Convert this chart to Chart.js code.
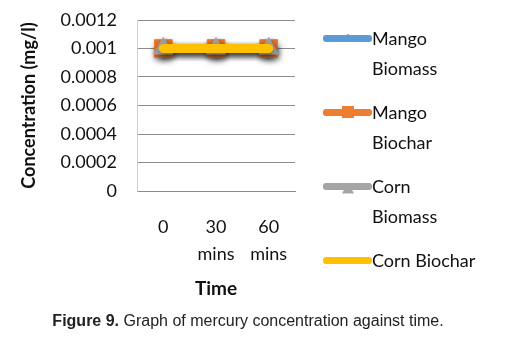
<!DOCTYPE html>
<html><head><meta charset="utf-8">
<script src="https://cdn.jsdelivr.net/npm/chart.js@4"></script>
<style>
html,body{margin:0;padding:0;background:#fff;width:516px;height:339px;overflow:hidden;font-family:Lato,sans-serif;}
#wrap{position:absolute;left:0;top:0;width:516px;height:300px;}
#legend{position:absolute;left:323px;top:23px;}
.item{display:flex;align-items:flex-start;height:74px;}
.sample{position:relative;width:49px;height:30px;flex:none;}
.sample .ln{position:absolute;left:0;right:0;top:12px;height:7px;border-radius:3px;}
.sample .mk{position:absolute;left:50%;top:15px;transform:translate(-50%,-50%);}
.txt{font-size:18px;line-height:30px;color:#111;max-width:105px;}
#caption{position:absolute;left:0;top:312px;width:496px;text-align:center;font-family:"Liberation Sans",Arial,sans-serif;font-size:16px;color:#222;}
</style></head>
<body>
<div id="wrap"><canvas id="c" width="516" height="300"></canvas></div>
<div id="legend"></div>
<div id="caption"><b>Figure 9.</b> Graph of mercury concentration against time.</div>
<script>
const categories = [["0"], ["30", "mins"], ["60", "mins"]];
const seriesNames = ["Mango Biomass", "Mango Biochar", "Corn Biomass", "Corn Biochar"];
const mangoBiomass = [0.001, 0.001, 0.001];
const mangoBiochar = [0.001, 0.001, 0.001];
const cornBiomass = [0.001, 0.001, 0.001];
const cornBiochar = [0.001, 0.001, 0.001];
const yTickValues = [0, 0.0002, 0.0004, 0.0006, 0.0008, 0.001, 0.0012];
const yTickLabels = ["0", "0.0002", "0.0004", "0.0006", "0.0008", "0.001", "0.0012"];
const yTitle = "Concentration (mg/l)";
const xTitle = "Time";

const colors = ["#5B9BD5", "#ED7D31", "#A5A5A5", "#FFC000"];
const styles = ["rectRot", "rect", "triangle", false];
const radii = [10, 12.5, 11, 0];
const values = [mangoBiomass, mangoBiochar, cornBiomass, cornBiochar];

const shadowPlugin = {
  id: 'shadow',
  beforeDatasetsDraw(chart){ const c=chart.ctx; c.save(); c.shadowColor='rgba(0,0,0,0.35)'; c.shadowBlur=6; c.shadowOffsetX=1; c.shadowOffsetY=3; },
  afterDatasetsDraw(chart){ chart.ctx.restore(); }
};

const chart = new Chart(document.getElementById('c'), {
  type: 'line',
  data: {
    labels: categories,
    datasets: seriesNames.map((n, i) => ({
      label: n,
      data: values[i],
      order: 4 - i,
      borderColor: colors[i],
      backgroundColor: colors[i],
      borderWidth: 9,
      borderCapStyle: 'round',
      pointStyle: styles[i],
      pointRadius: radii[i],
      pointBorderWidth: 1,
      pointBorderColor: colors[i],
      pointBackgroundColor: colors[i],
      tension: 0
    }))
  },
  options: {
    responsive: false,
    animation: false,
    devicePixelRatio: 1,
    layout: { padding: { top: 20, right: 221, left: 0, bottom: 0 } },
    plugins: { legend: { display: false }, tooltip: { enabled: false } },
    scales: {
      x: {
        offset: true,
        grid: { display: false, drawTicks: false },
        border: { display: true, color: '#8c8c8c', width: 1 },
        ticks: { color: '#111', font: { family: 'Lato', size: 18, lineHeight: 1.5 }, padding: 23, maxRotation: 0 },
        title: { display: true, text: xTitle, color: '#111', font: { family: 'Lato', size: 19, weight: 'bold' }, padding: { top: 4, bottom: 0 } },
        afterFit(s){ s.height = 109; }
      },
      y: {
        min: 0, max: 0.0012,
        afterBuildTicks(s){ s.ticks = yTickValues.map(v => ({ value: v })); },
        grid: { color: '#8c8c8c', drawTicks: false, lineWidth: 1 },
        border: { display: true, color: '#d0d0d0', width: 1 },
        ticks: { color: '#111', font: { family: 'Lato', size: 18 }, padding: 20,
          callback: (v) => { const k = yTickValues.findIndex(t => Math.abs(t - v) < 1e-9); return k >= 0 ? yTickLabels[k] : ''; } },
        title: { display: true, text: yTitle, color: '#111', font: { family: 'Lato', size: 18, weight: 'bold' }, padding: { top: 18, bottom: 4 } },
        afterFit(s){ s.width = 137; s.paddingTop = 0; s.paddingBottom = 0; }
      }
    }
  },
  plugins: [shadowPlugin]
});

// HTML legend built from the datasets
const lg = document.getElementById('legend');
chart.data.datasets.forEach((d, i) => {
  const it = document.createElement('div'); it.className = 'item';
  const sm = document.createElement('div'); sm.className = 'sample';
  const ln = document.createElement('div'); ln.className = 'ln'; ln.style.background = d.borderColor; sm.appendChild(ln);
  const mk = document.createElement('div'); mk.className = 'mk';
  if (d.pointStyle === 'rectRot') { mk.style.cssText += 'width:6px;height:6px;background:'+d.borderColor+';transform:translate(-50%,-50%) rotate(45deg);'; }
  else if (d.pointStyle === 'rect') { mk.style.cssText += 'width:12px;height:12px;background:'+d.borderColor+';'; }
  else if (d.pointStyle === 'triangle') { mk.style.cssText += 'width:0;height:0;margin-top:2px;border-left:6px solid transparent;border-right:6px solid transparent;border-bottom:11px solid '+d.borderColor+';'; }
  sm.appendChild(mk);
  const tx = document.createElement('div'); tx.className = 'txt'; tx.textContent = d.label;
  it.appendChild(sm); it.appendChild(tx); lg.appendChild(it);
});
</script>
</body></html>
